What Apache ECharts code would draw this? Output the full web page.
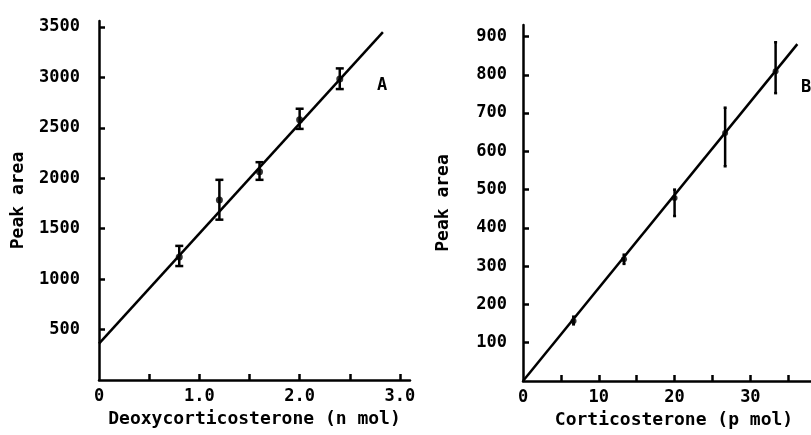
<!DOCTYPE html>
<html>
<head>
<meta charset="utf-8">
<script src="https://cdn.jsdelivr.net/npm/echarts@6/dist/echarts.min.js"></script>
<style>
  html, body { margin: 0; padding: 0; background: #fff; }
  #chart { width: 811px; height: 435px; }
</style>
</head>
<body>
<div id="chart"></div>
<script>
// panel A: deoxycorticosterone (n mol) vs peak area
const doseA = [0.8, 1.2, 1.6, 2.0, 2.4]
const meanA = [1220, 1785, 2065, 2580, 2985]
const lowA = [1130, 1590, 1985, 2490, 2885]
const highA = [1330, 1985, 2160, 2690, 3090]
const fitA = [[0, 360], [2.83, 3450]]

// panel B: corticosterone (p mol) vs peak area
const doseB = [6.67, 13.33, 20, 26.67, 33.33]
const meanB = [157, 318, 478, 648, 809]
const lowB = [148, 306, 431, 561, 752]
const highB = [168, 330, 500, 714, 885]
const fitB = [[0, 0], [36.2, 880]]

const yTicksA = [500, 1000, 1500, 2000, 2500, 3000, 3500]
const xLabelsA = [0, 1, 2, 3]
const xTicksA = [0.5, 1, 1.5, 2, 2.5, 3]
const yTicksB = [100, 200, 300, 400, 500, 600, 700, 800, 900]
const xLabelsB = [0, 10, 20, 30]
const xTicksB = [5, 10, 15, 20, 25, 30, 35]

const FONT = 'DejaVu Sans Mono'
const labelStyle = { color: '#000', fontFamily: FONT, fontWeight: 'bold', fontSize: 17 }
const nameStyle = { color: '#000', fontFamily: FONT, fontWeight: 'bold', fontSize: 18 }
const lineStyle = { color: '#000', width: 2.5 }

function errBars(xs, lo, hi) {
  return xs.map((x, i) => [x, lo[i], hi[i]])
}

function errRender(cap) {
  return function (params, api) {
    const top = api.coord([api.value(0), api.value(2)])
    const bot = api.coord([api.value(0), api.value(1)])
    const st = { stroke: '#000', lineWidth: 2.5 }
    const kids = [{ type: 'line', shape: { x1: top[0], y1: top[1], x2: bot[0], y2: bot[1] }, style: st }]
    if (cap > 0) {
      kids.push({ type: 'line', shape: { x1: top[0] - cap, y1: top[1], x2: top[0] + cap, y2: top[1] }, style: st })
      kids.push({ type: 'line', shape: { x1: bot[0] - cap, y1: bot[1], x2: bot[0] + cap, y2: bot[1] }, style: st })
    }
    return { type: 'group', children: kids }
  }
}

const plain = v => String(v)

const chart = echarts.init(document.getElementById('chart'), null, { renderer: 'canvas' })

chart.setOption({
  backgroundColor: '#fff',
  animation: false,
  grid: [
    { left: 99, top: 21, width: 311, bottom: 55 },
    { left: 523, top: 25, right: 0, bottom: 54 }
  ],
  xAxis: [
    {
      gridIndex: 0, type: 'value', min: 0, max: 3.1,
      name: 'Deoxycorticosterone (n mol)', nameLocation: 'middle', nameGap: 27,
      nameTextStyle: nameStyle,
      axisLine: { lineStyle: lineStyle },
      axisTick: { inside: true, length: 6, lineStyle: lineStyle, customValues: xTicksA },
      axisLabel: Object.assign({ customValues: xLabelsA, margin: 8,
        formatter: v => v === 0 ? '0' : v.toFixed(1) }, labelStyle),
      splitLine: { show: false }
    },
    {
      gridIndex: 1, type: 'value', min: 0, max: 38,
      name: 'Corticosterone (p mol)', nameLocation: 'middle', nameGap: 28,
      nameTextStyle: Object.assign({ padding: [0, 0, 0, 14] }, nameStyle),
      axisLine: { lineStyle: lineStyle },
      axisTick: { inside: true, length: 6, lineStyle: lineStyle, customValues: xTicksB },
      axisLabel: Object.assign({ customValues: xLabelsB, margin: 8, formatter: plain }, labelStyle),
      splitLine: { show: false }
    }
  ],
  yAxis: [
    {
      gridIndex: 0, type: 'value', min: 0, max: 3560,
      name: 'Peak area', nameLocation: 'middle', nameGap: 72, nameRotate: 90,
      nameTextStyle: nameStyle,
      axisLine: { lineStyle: lineStyle },
      axisTick: { inside: true, length: 6, lineStyle: lineStyle, customValues: yTicksA },
      axisLabel: Object.assign({ customValues: yTicksA, margin: 19, formatter: plain,
        padding: [0, 0, 6, 0] }, labelStyle),
      splitLine: { show: false }
    },
    {
      gridIndex: 1, type: 'value', min: 0, max: 930,
      name: 'Peak area', nameLocation: 'middle', nameGap: 71, nameRotate: 90,
      nameTextStyle: nameStyle,
      axisLine: { lineStyle: lineStyle },
      axisTick: { inside: true, length: 6, lineStyle: lineStyle, customValues: yTicksB },
      axisLabel: Object.assign({ customValues: yTicksB, margin: 16, formatter: plain,
        padding: [0, 0, 4, 0] }, labelStyle),
      splitLine: { show: false }
    }
  ],
  series: [
    {
      type: 'line', xAxisIndex: 0, yAxisIndex: 0, data: fitA,
      showSymbol: false, lineStyle: { color: '#000', width: 2.5 }, silent: true
    },
    {
      type: 'custom', xAxisIndex: 0, yAxisIndex: 0,
      data: errBars(doseA, lowA, highA), renderItem: errRender(4)
    },
    {
      type: 'scatter', xAxisIndex: 0, yAxisIndex: 0,
      data: doseA.map((x, i) => [x, meanA[i]]),
      symbolSize: 7, itemStyle: { color: '#000' }
    },
    {
      type: 'line', xAxisIndex: 1, yAxisIndex: 1, data: fitB,
      showSymbol: false, lineStyle: { color: '#000', width: 2.5 }, silent: true
    },
    {
      type: 'custom', xAxisIndex: 1, yAxisIndex: 1,
      data: errBars(doseB, lowB, highB), renderItem: errRender(1.5)
    },
    {
      type: 'scatter', xAxisIndex: 1, yAxisIndex: 1,
      data: doseB.map((x, i) => [x, meanB[i]]),
      symbolSize: 6, itemStyle: { color: '#000' }
    }
  ],
  graphic: [
    { type: 'text', left: 377, top: 77, style: { text: 'A', fill: '#000', font: 'bold 17px "DejaVu Sans Mono"' } },
    { type: 'text', left: 801, top: 79, style: { text: 'B', fill: '#000', font: 'bold 17px "DejaVu Sans Mono"' } }
  ]
})
</script>
</body>
</html>
